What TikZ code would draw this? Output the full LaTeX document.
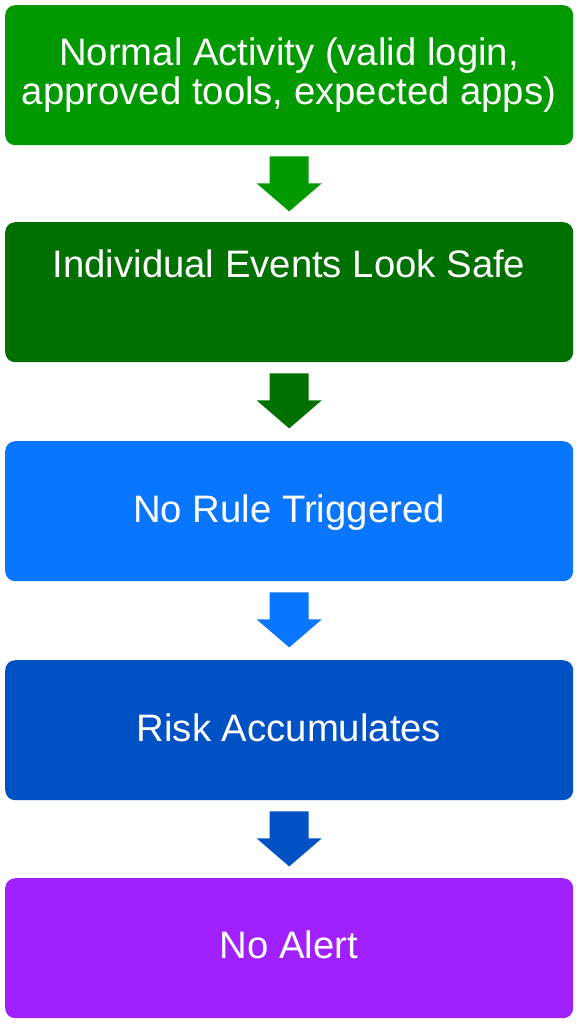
\documentclass[tikz,border=0pt]{standalone}
\usepackage{fontspec}
\setmainfont{Liberation Sans}
\definecolor{cA}{RGB}{0,153,0}
\definecolor{cB}{RGB}{0,112,0}
\definecolor{cC}{RGB}{8,118,255}
\definecolor{cD}{RGB}{0,82,196}
\definecolor{cE}{RGB}{161,32,255}
\begin{document}
\begin{tikzpicture}[x=1pt,y=-1pt,
  box/.style={rounded corners=10pt, minimum width=568pt, minimum height=140pt, inner sep=0pt, anchor=north west, draw=none},
  lab/.style={text=white, font=\fontsize{38.3}{39}\selectfont, anchor=base, inner sep=0pt}]
\useasboundingbox (0,0) rectangle (578,1024);
\node[box, fill=cA] (b1) at (5,5) {};
\node[box, fill=cB] (b2) at (5,222) {};
\node[box, fill=cC] (b3) at (5,441) {};
\node[box, fill=cD] (b4) at (5,660) {};
\node[box, fill=cE] (b5) at (5,878) {};
\node[lab] (t1a) at (289,66) {Normal Activity (valid login,};
\node[lab] (t1b) at (289,105) {approved tools, expected apps)};
\node[lab] (t2) at (289,277) {Individual Events Look Safe};
\node[lab] (t3) at (289,522) {No Rule Triggered};
\node[lab] (t4) at (289,741) {Risk Accumulates};
\node[lab] (t5) at (289,958) {No Alert};
\foreach \a/\c in {b1/cA, b2/cB, b3/cC, b4/cD}{
  \fill[\c] ([xshift=-19.5pt,yshift=-11pt]\a.south) -- ([xshift=19.5pt,yshift=-11pt]\a.south)
    -- ([xshift=19.5pt,yshift=-38pt]\a.south) -- ([xshift=32.5pt,yshift=-38pt]\a.south)
    -- ([yshift=-66pt]\a.south) -- ([xshift=-32.5pt,yshift=-38pt]\a.south)
    -- ([xshift=-19.5pt,yshift=-38pt]\a.south) -- cycle;
}
\end{tikzpicture}
\end{document}
